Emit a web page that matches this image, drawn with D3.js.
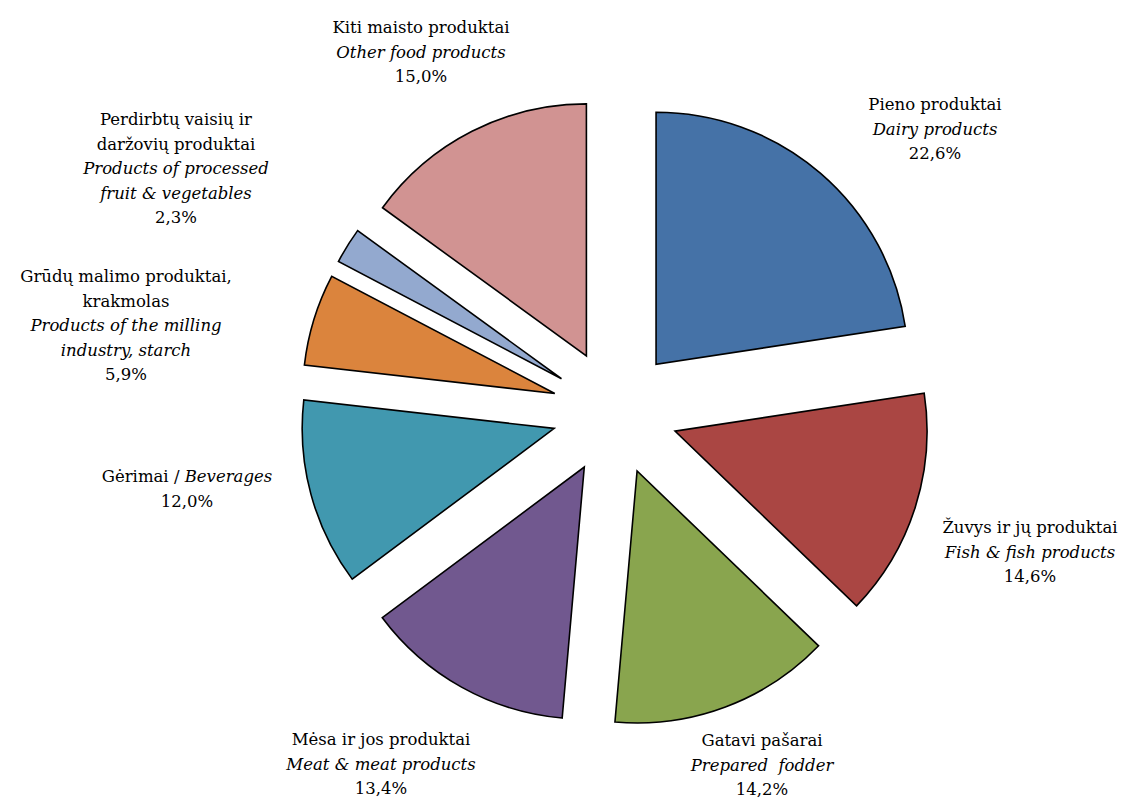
<!DOCTYPE html>
<html>
<head>
<meta charset="utf-8">
<script src="https://cdn.jsdelivr.net/npm/d3@7"></script>
<style>
  html, body { margin: 0; padding: 0; background: #fff; }
  svg text { font-family: "DejaVu Serif", "Liberation Serif", serif; font-size: 16.5px; fill: #000; }
</style>
</head>
<body>
<svg id="chart" width="1127" height="801"></svg>
<script>
// Data (clockwise from 12 o'clock)
const namesLt = ["Pieno produktai", "Žuvys ir jų produktai", "Gatavi pašarai", "Mėsa ir jos produktai",
  "Gėrimai", "Grūdų malimo produktai,\nkrakmolas", "Perdirbtų vaisių ir\ndaržovių produktai", "Kiti maisto produktai"];
const namesEn = ["Dairy products", "Fish & fish products", "Prepared  fodder", "Meat & meat products",
  "Beverages", "Products of the milling\nindustry, starch", "Products of processed\nfruit & vegetables", "Other food products"];
const shares = [22.6, 14.6, 14.2, 13.4, 12.0, 5.9, 2.3, 15.0];
const colors = ["#4572A7", "#AA4643", "#89A54E", "#71588F", "#4198AF", "#DB843D", "#93A9CF", "#D19392"];

// layout
const cx = 615, cy = 412;
const radius = 252;
const explode = 63;
const lineH = 24.5;
// label centre x and first baseline y, per slice
const labelAt = [[935, 110], [1030, 533], [762, 746], [381, 745], [187, 482], [126, 282], [176, 125], [421, 33]];

var svg = d3.select("#chart");
var g = svg.append("g").attr("transform", "translate(" + cx + "," + cy + ")");

var pie = d3.pie().sort(null).value(function(d) { return d; });
var arcs = pie(shares);

var arcGen = d3.arc().innerRadius(0).outerRadius(radius);

// exploded slices
g.selectAll("path.slice")
  .data(arcs)
  .enter()
  .append("path")
  .attr("class", "slice")
  .attr("d", arcGen)
  .attr("transform", function(d) {
    var mid = (d.startAngle + d.endAngle) / 2;
    return "translate(" + (Math.sin(mid) * explode) + "," + (-Math.cos(mid) * explode) + ")";
  })
  .attr("fill", function(d, i) { return colors[i]; })
  .attr("stroke", "#000")
  .attr("stroke-width", 1.6)
  .attr("stroke-linejoin", "miter");

function pct(v) { return v.toFixed(1).replace(".", ",") + "%"; }

// labels
arcs.forEach(function(d, i) {
  var lines = [];
  if (i == 4) {
    lines.push([{t: namesLt[i] + " / ", it: false}, {t: namesEn[i], it: true}]);
  } else {
    namesLt[i].split("\n").forEach(function(s) { lines.push([{t: s, it: false}]); });
    namesEn[i].split("\n").forEach(function(s) { lines.push([{t: s, it: true}]); });
  }
  lines.push([{t: pct(shares[i]), it: false}]);

  var txt = svg.append("text")
    .attr("text-anchor", "middle")
    .attr("xml:space", "preserve");
  lines.forEach(function(segs, k) {
    segs.forEach(function(s, j) {
      var ts = txt.append("tspan").text(s.t);
      if (j == 0) ts.attr("x", labelAt[i][0]).attr("y", labelAt[i][1] + k * lineH);
      if (s.it) ts.attr("font-style", "italic");
    });
  });
});
</script>
</body>
</html>
